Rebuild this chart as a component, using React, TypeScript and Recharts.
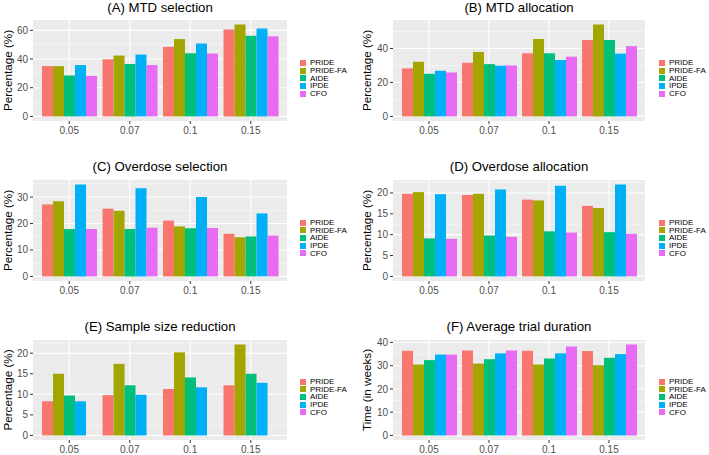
import { BarChart, Bar, XAxis, YAxis, CartesianGrid } from "recharts";

const doseLevels = ["0.05", "0.07", "0.1", "0.15"];
const designs = ["PRIDE", "PRIDE-FA", "AIDE", "IPDE", "CFO"];
const designColors = ["#F8766D", "#A3A500", "#00BF7D", "#00B0F6", "#E76BF3"];

// one row per dose level, columns follow `designs`
const mtdSelection = [
    [35.1, 35.0, 28.5, 35.8, 28.2],
    [39.8, 42.4, 36.5, 43.1, 35.8],
    [48.5, 53.9, 44.0, 50.8, 43.8],
    [60.5, 64.0, 56.2, 61.2, 55.8],
];
const mtdAllocation = [
    [28.3, 32.2, 25.1, 26.9, 25.9],
    [31.6, 38.0, 30.8, 29.9, 30.0],
    [37.2, 45.6, 37.2, 33.2, 35.2],
    [45.0, 54.1, 45.0, 37.0, 41.4],
];
const overdoseSelection = [
    [27.2, 28.4, 17.9, 34.7, 17.9],
    [25.6, 24.8, 17.9, 33.3, 18.4],
    [21.1, 18.9, 18.2, 30.0, 18.3],
    [16.1, 14.8, 15.1, 23.8, 15.4],
];
const overdoseAllocation = [
    [19.8, 20.2, 9.1, 19.7, 9.0],
    [19.5, 19.8, 9.8, 20.8, 9.5],
    [18.4, 18.2, 10.8, 21.7, 10.5],
    [16.9, 16.4, 10.6, 22.0, 10.2],
];
// CFO has no sample size reduction bar
const sampleSizeReduction = [
    [8.3, 15.0, 9.7, 8.3, null],
    [9.8, 17.4, 12.2, 9.9, null],
    [11.3, 20.2, 14.1, 11.7, null],
    [12.2, 22.1, 15.0, 12.8, null],
];
const trialDuration = [
    [36.4, 30.5, 32.4, 34.8, 34.8],
    [36.5, 30.9, 32.8, 35.3, 36.5],
    [36.4, 30.5, 33.1, 35.3, 38.3],
    [36.3, 30.2, 33.4, 35.0, 39.1],
];

const ticksA = [0, 20, 40, 60];
const minorA = [10, 30, 50];
const ticksB = [0, 20, 40];
const minorB = [10, 30, 50];
const ticksC = [0, 10, 20, 30];
const minorC = [5, 15, 25, 35];
const ticksD = [0, 5, 10, 15, 20];
const minorD = [2.5, 7.5, 12.5, 17.5, 22.5];
const ticksE = [0, 5, 10, 15, 20];
const minorE = [2.5, 7.5, 12.5, 17.5, 22.5];
const ticksF = [0, 10, 20, 30, 40];
const minorF = [5, 15, 25, 35];

const FONT = '"Liberation Sans", Arial, sans-serif';

function buildRows(values: (number | null)[][]) {
    return doseLevels.map((dose, i) => {
        const row: Record<string, any> = { dose };
        designs.forEach((d, j) => {
            row[d] = values[i][j];
        });
        return row;
    });
}

interface PanelProps {
    title: string;
    yLabel: string;
    values: (number | null)[][];
    ticks: number[];
    minorTicks: number[];
    left: number;
    top: number;
    width: number;
    height: number;
    plotTop: number;
    axisWidth: number;
    labelOffset: number;
    titleY: number;
    legendX: number;
    legendY: number;
}

function Panel({
    title, yLabel, values, ticks, minorTicks, left, top, width, height,
    plotTop, axisWidth, labelOffset, titleY, legendX, legendY,
}: PanelProps) {
    const data = buildRows(values);
    const max = Math.max(...values.flat().filter((v): v is number => v != null));
    const plotLeft = left + axisWidth;
    const plotRight = left + width - 3;

    return (
        <>
            <div
                style={{
                    position: "absolute",
                    left: plotLeft,
                    width: plotRight - plotLeft,
                    top: titleY - 8,
                    lineHeight: "16px",
                    fontSize: 13.2,
                    textAlign: "center",
                    color: "#000",
                    whiteSpace: "nowrap",
                }}
            >
                {title}
            </div>
            <div style={{ position: "absolute", left, top }}>
                <BarChart
                    width={width}
                    height={height}
                    data={data}
                    margin={{ top: plotTop, right: 3, left: 0, bottom: 0 }}
                    barCategoryGap="5%"
                    barGap={0}
                >
                    <CartesianGrid fill="#EBEBEB" fillOpacity={1} stroke="#fff" strokeWidth={1.1} syncWithTicks />
                    <CartesianGrid vertical={false} horizontalValues={minorTicks} stroke="#fff" strokeWidth={0.5} syncWithTicks />
                    <XAxis
                        dataKey="dose"
                        interval={0}
                        axisLine={false}
                        tickSize={3}
                        tickMargin={2.5}
                        tickLine={{ stroke: "#333" }}
                        tick={{ fill: "#4D4D4D", fontSize: 10 }}
                        padding={{ left: 6, right: 6 }}
                        height={18}
                    />
                    <YAxis
                        type="number"
                        width={axisWidth}
                        ticks={ticks}
                        domain={[-0.05 * max, 1.05 * max]}
                        allowDataOverflow
                        axisLine={false}
                        tickSize={3}
                        tickMargin={2}
                        tickLine={{ stroke: "#333" }}
                        tick={{ fill: "#4D4D4D", fontSize: 10 }}
                        label={{
                            value: yLabel,
                            angle: -90,
                            position: "insideLeft",
                            offset: labelOffset,
                            style: { textAnchor: "middle", fontSize: 11.7, fill: "#000" },
                        }}
                    />
                    {designs.map((d, j) => (
                        <Bar key={d} dataKey={d} fill={designColors[j]} isAnimationActive={false} />
                    ))}
                </BarChart>
            </div>
            {designs.map((d, j) => (
                <div
                    key={d}
                    style={{
                        position: "absolute",
                        left: legendX,
                        top: legendY + j * 7.7 - 3.85,
                        height: 7.7,
                        display: "flex",
                        alignItems: "center",
                        fontSize: 8,
                        lineHeight: "7.7px",
                        color: "#000",
                        whiteSpace: "nowrap",
                    }}
                >
                    <span style={{ display: "inline-block", width: 6, height: 6, background: designColors[j], marginRight: 4 }} />
                    {d}
                </div>
            ))}
        </>
    );
}

export default function App() {
    return (
        <div
            style={{
                position: "absolute",
                left: 0,
                top: 0,
                width: 709,
                height: 455,
                background: "#fff",
                fontFamily: FONT,
                overflow: "hidden",
            }}
        >
            <Panel title="(A) MTD selection" yLabel="Percentage (%)" values={mtdSelection} ticks={ticksA} minorTicks={minorA}
                left={0} top={0} width={290} height={139} plotTop={20} axisWidth={33} labelOffset={8}
                titleY={8} legendX={300} legendY={63} />
            <Panel title="(B) MTD allocation" yLabel="Percentage (%)" values={mtdAllocation} ticks={ticksB} minorTicks={minorB}
                left={350} top={0} width={298} height={139} plotTop={20} axisWidth={43} labelOffset={17}
                titleY={8} legendX={659} legendY={63} />
            <Panel title="(C) Overdose selection" yLabel="Percentage (%)" values={overdoseSelection} ticks={ticksC} minorTicks={minorC}
                left={0} top={150} width={290} height={149} plotTop={30} axisWidth={33} labelOffset={8}
                titleY={166.5} legendX={300} legendY={222.7} />
            <Panel title="(D) Overdose allocation" yLabel="Percentage (%)" values={overdoseAllocation} ticks={ticksD} minorTicks={minorD}
                left={350} top={150} width={298} height={149} plotTop={30} axisWidth={43} labelOffset={17}
                titleY={166.5} legendX={659} legendY={222.7} />
            <Panel title="(E) Sample size reduction" yLabel="Percentage (%)" values={sampleSizeReduction} ticks={ticksE} minorTicks={minorE}
                left={0} top={300} width={290} height={158} plotTop={40} axisWidth={33} labelOffset={8}
                titleY={327} legendX={300} legendY={381.7} />
            <Panel title="(F) Average trial duration" yLabel="Time (in weeks)" values={trialDuration} ticks={ticksF} minorTicks={minorF}
                left={350} top={300} width={298} height={158} plotTop={40} axisWidth={43} labelOffset={17}
                titleY={327} legendX={659} legendY={381.7} />
        </div>
    );
}
